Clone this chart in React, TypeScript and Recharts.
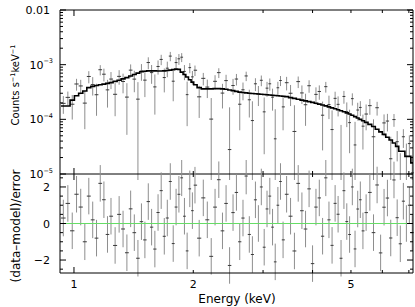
import { ComposedChart, ErrorBar, Line, ReferenceLine, Scatter, XAxis, YAxis } from "recharts";

// spectrum values are in units of 1e-4 counts s^-1 keV^-1
const UNIT = 1e-4;

const energy = [
  0.94, 0.965, 0.99, 1.015, 1.04, 1.065, 1.09, 1.115, 1.14, 1.165, 1.19, 1.215, 1.24,
  1.27, 1.3, 1.33, 1.36, 1.39, 1.42, 1.45, 1.48, 1.51, 1.54, 1.57, 1.6, 1.63, 1.66, 1.69, 1.72, 1.75, 1.78, 1.81, 1.84, 1.87, 1.9, 1.93, 1.96, 1.99,
  2.02, 2.07, 2.12, 2.17, 2.22, 2.27, 2.32, 2.37, 2.42, 2.47, 2.52, 2.57, 2.62, 2.67, 2.72, 2.77, 2.82, 2.87, 2.92, 2.97, 3.02, 3.07, 3.12, 3.17, 3.22, 3.27, 3.32, 3.37,
  3.44, 3.52, 3.6, 3.68, 3.76, 3.84, 3.92, 4.0, 4.08, 4.16, 4.24, 4.32, 4.4, 4.48, 4.56, 4.64, 4.72, 4.8, 4.88, 4.96, 5.04, 5.12, 5.2, 5.28, 5.36,
  5.46, 5.58, 5.7, 5.82, 5.94, 6.06, 6.18, 6.3, 6.42, 6.54, 6.66, 6.78, 6.9, 7.02, 7.14,
];

const model = [
  1.75, 1.75, 2.25, 2.7, 3.0, 3.3, 3.8, 4.0, 4.15, 4.3, 4.4, 4.55, 4.7,
  4.95, 5.2, 5.5, 5.8, 6.2, 6.6, 7.0, 7.4, 7.6, 7.7, 7.7, 7.7, 7.65, 7.65, 7.7, 7.8, 7.95, 8.1, 8.3, 8.2, 7.3, 6.6, 5.95, 5.3, 4.8,
  4.3, 3.8, 3.6, 3.6, 3.6, 3.65, 3.65, 3.6, 3.55, 3.45, 3.35, 3.25, 3.15, 3.1, 3.05, 3.0, 2.97, 2.94, 2.91, 2.88, 2.85, 2.82, 2.79, 2.76, 2.73, 2.7, 2.67, 2.64,
  2.6, 2.5, 2.42, 2.33, 2.25, 2.18, 2.11, 2.04, 1.97, 1.9, 1.83, 1.76, 1.69, 1.62, 1.56, 1.5, 1.44, 1.38, 1.31, 1.25, 1.19, 1.12, 1.06, 1.0, 0.94,
  0.88, 0.81, 0.74, 0.66, 0.59, 0.53, 0.47, 0.42, 0.37, 0.32, 0.26, 0.26, 0.21, 0.21, 0.16,
];

const counts = [
  1.96, 2.52, 1.89, 4.43, 4.08, 1.98, 6.08, 4.32, 2.82, 8.08, 6.69, 3.46, 5.45,
  2.87, 6.11, 4.92, 2.55, 7.94, 5.44, 2.34, 7.66, 5.21, 10.94, 7.16, 3.92, 9.26, 12.47, 5.81, 8.62, 14.34, 4.98, 10.92, 12.79, 13.7, 7.52, 2.83, 8.83, 5.98,
  7.91, 2.58, 5.62, 3.89, 1.01, 4.96, 7.15, 3.02, 5.11, 0.28, 4.15, 5.46, 1.89, 3.47, 6.22, 2.28, 0.95, 4.47, 2.91, 5.18, 1.37, 3.72, 4.47, 2.54, 0.44, 3.78, 5.13, 1.69,
  4.68, 3.0, 0.6, 4.9, 3.04, 1.85, 4.12, -0.2, 2.86, 3.23, 1.19, 3.96, 1.86, 0.65, 2.42, 1.88, 0.07, 2.62, 1.38, 0.87, 2.39, 0.34, 1.48, 1.65, 0.75,
  1.25, 1.78, 0.48, 1.63, -0.07, 0.86, 0.93, 0.19, 0.99, 0.39, 0.06, 0.48, 0.21, 0.36, 0.105,
];

const countErr = [
  0.7, 0.7, 0.9, 1.08, 1.2, 1.32, 1.52, 1.6, 1.66, 1.72, 1.76, 1.82, 1.88,
  1.73, 1.82, 1.93, 2.03, 2.17, 2.31, 2.45, 2.59, 2.66, 2.7, 2.7, 2.7, 2.68, 2.68, 2.7, 2.73, 2.78, 2.84, 2.91, 2.87, 2.56, 2.31, 2.08, 1.86, 1.68,
  1.72, 1.52, 1.44, 1.44, 1.44, 1.46, 1.46, 1.44, 1.42, 1.38, 1.34, 1.3, 1.26, 1.24, 1.22, 1.2, 1.19, 1.18, 1.16, 1.15, 1.14, 1.13, 1.12, 1.1, 1.09, 1.08, 1.07, 1.06,
  1.3, 1.25, 1.21, 1.17, 1.13, 1.09, 1.06, 1.02, 0.99, 0.95, 0.92, 0.88, 0.85, 0.81, 0.78, 0.75, 0.72, 0.69, 0.66, 0.63, 0.6, 0.56, 0.53, 0.5, 0.47,
  0.62, 0.57, 0.52, 0.46, 0.41, 0.37, 0.33, 0.29, 0.26, 0.22, 0.18, 0.18, 0.15, 0.15, 0.11,
];

const xTicks = [1, 2, 3, 4, 5, 6, 7];
const xLabelled = [1, 2, 5];
const decades = [1e-5, 1e-4, 1e-3, 1e-2];
const resTicks = [-2.5, -2, -1.5, -1, -0.5, 0, 0.5, 1, 1.5, 2, 2.5];
const resLabelled = [-2, 0, 2];

const X_DOMAIN: [number, number] = [0.922, 7.17];
const Y_DOMAIN: [number, number] = [1e-5, 1e-2];
const R_DOMAIN: [number, number] = [-2.71, 2.71];

const FONT = "'DejaVu Sans', sans-serif";
const GREY = "#8e8e8e";
const DARK = "#3a3a3a";

const logTicks = decades
  .slice(0, -1)
  .flatMap((d) => [1, 2, 3, 4, 5, 6, 7, 8, 9].map((k) => k * d))
  .concat(decades[decades.length - 1]);

const isDecade = (v: number) => Math.abs(Math.log10(v) - Math.round(Math.log10(v))) < 1e-6;

// bin edges halfway between neighbouring channels
const bins = energy.map((e, i) => {
  const lo = i > 0 ? (energy[i - 1] + e) / 2 : e - (energy[1] - energy[0]) / 2;
  const hi = i < energy.length - 1 ? (e + energy[i + 1]) / 2 : e + (e - energy[i - 1]) / 2;
  const c = counts[i] * UNIT;
  const s = countErr[i] * UNIT;
  const m = model[i] * UNIT;
  return { e, lo, hi, c, m, xe: [e - lo, hi - e], ye: [Math.min(s, c * 0.999), s], r: (c - m) / s, re: 1 };
});
const spectrum = bins.filter((b) => b.c > 0);
const modelSteps = [...bins.map((b) => ({ e: b.lo, m: b.m })), { e: bins[bins.length - 1].hi, m: bins[bins.length - 1].m }];

const TopXTick = ({ x, y, payload }: any) => {
  const len = payload.value === 1 ? 6 : 3;
  return <line x1={x} x2={x} y1={y} y2={y + len} stroke="#000" />;
};

const MidXTick = ({ x, y, payload }: any) => {
  const len = payload.value === 1 ? 6 : 3;
  return <line x1={x} x2={x} y1={y - len} y2={y + len} stroke="#000" />;
};

const BottomXTick = ({ x, y, payload }: any) => {
  const v = payload.value;
  const len = v === 1 ? 6 : 3;
  return (
    <g>
      <line x1={x} x2={x} y1={y} y2={y - len} stroke="#000" />
      {xLabelled.includes(v) && (
        <text x={x} y={y + 15} textAnchor="middle" fontSize={11} fontFamily={FONT} fill="#000">
          {v}
        </text>
      )}
    </g>
  );
};

const LogYTick = ({ x, y, payload, side }: any) => {
  const v = payload.value;
  const major = isDecade(v);
  const len = major ? 6 : 3;
  const dir = side === "left" ? 1 : -1;
  const exp = Math.round(Math.log10(v));
  return (
    <g>
      <line x1={x} x2={x + dir * len} y1={y} y2={y} stroke="#000" />
      {side === "left" && major &&
        (exp === -2 ? (
          <text x={x - 10} y={y + 4} textAnchor="end" fontSize={11} fontFamily={FONT} fill="#000">
            0.01
          </text>
        ) : (
          <text x={x - 7} y={y + 4} textAnchor="end" fontSize={11} fontFamily={FONT} fill="#000">
            10
            <tspan dy={-5.5} fontSize={6.5}>{`−${-exp}`}</tspan>
          </text>
        ))}
    </g>
  );
};

const ResYTick = ({ x, y, payload, side }: any) => {
  const v = payload.value;
  const major = resLabelled.includes(v);
  const len = major ? 6 : 3;
  const dir = side === "left" ? 1 : -1;
  return (
    <g>
      <line x1={x} x2={x + dir * len} y1={y} y2={y} stroke="#000" />
      {side === "left" && major && (
        <text x={x - 10} y={y + 4} textAnchor="end" fontSize={11} fontFamily={FONT} fill="#000">
          {v < 0 ? `−${-v}` : v}
        </text>
      )}
    </g>
  );
};

const axisLine = { stroke: "#000", strokeWidth: 1 };

export default function App() {
  return (
    <div style={{ position: "absolute", left: 0, top: 0, width: 415, height: 307, background: "#fff" }}>
      <div style={{ position: "absolute", left: 0, top: 0 }}>
        <ComposedChart width={415} height={180} margin={{ top: 0, right: 0, bottom: 0, left: 0 }} data={modelSteps}>
          <XAxis
            xAxisId="top"
            orientation="top"
            type="number"
            dataKey="e"
            scale="log"
            domain={X_DOMAIN}
            allowDataOverflow
            ticks={xTicks}
            interval={0}
            height={10}
            tickSize={0}
            tickMargin={0}
            tickLine={false}
            axisLine={axisLine}
            tick={(p: any) => <TopXTick {...p} />}
          />
          <XAxis
            xAxisId="mid"
            orientation="bottom"
            type="number"
            dataKey="e"
            scale="log"
            domain={X_DOMAIN}
            allowDataOverflow
            ticks={xTicks}
            interval={0}
            height={6}
            tickSize={0}
            tickMargin={0}
            tickLine={false}
            axisLine={axisLine}
            tick={(p: any) => <MidXTick {...p} />}
          />
          <YAxis
            yAxisId="l"
            orientation="left"
            type="number"
            scale="log"
            domain={Y_DOMAIN}
            allowDataOverflow
            ticks={logTicks}
            interval={0}
            width={60}
            tickSize={0}
            tickMargin={0}
            tickLine={false}
            axisLine={axisLine}
            tick={(p: any) => <LogYTick {...p} side="left" />}
            label={{
              content: () => (
                <text x={19} y={85} transform="rotate(-90 19 85)" textAnchor="middle" fontSize={10} fontFamily={FONT} fill="#000">
                  Counts s<tspan dy={-4} fontSize={6.5}>−1</tspan>
                  <tspan dy={4}>keV</tspan>
                  <tspan dy={-4} fontSize={6.5}>−1</tspan>
                </text>
              ),
            }}
          />
          <YAxis
            yAxisId="r"
            orientation="right"
            type="number"
            scale="log"
            domain={Y_DOMAIN}
            allowDataOverflow
            ticks={logTicks}
            interval={0}
            width={2}
            tickSize={0}
            tickMargin={0}
            tickLine={false}
            axisLine={axisLine}
            tick={(p: any) => <LogYTick {...p} side="right" />}
          />
          <Scatter xAxisId="mid" yAxisId="l" data={spectrum} dataKey="c" shape={() => <g />} isAnimationActive={false}>
            <ErrorBar dataKey="ye" direction="y" width={0} stroke={GREY} strokeWidth={1} />
            <ErrorBar dataKey="xe" direction="x" width={0} stroke={DARK} strokeWidth={1} />
          </Scatter>
          <Line
            xAxisId="mid"
            yAxisId="l"
            dataKey="m"
            type="stepAfter"
            stroke="#000"
            strokeWidth={1.6}
            dot={false}
            isAnimationActive={false}
          />
        </ComposedChart>
      </div>
      <div style={{ position: "absolute", left: 0, top: 160 }}>
        <ComposedChart width={415} height={147} margin={{ top: 14, right: 0, bottom: 0, left: 0 }} data={bins}>
          <XAxis
            xAxisId="b"
            orientation="bottom"
            type="number"
            dataKey="e"
            scale="log"
            domain={X_DOMAIN}
            allowDataOverflow
            ticks={xTicks}
            interval={0}
            height={34}
            tickSize={0}
            tickMargin={0}
            tickLine={false}
            axisLine={axisLine}
            tick={(p: any) => <BottomXTick {...p} />}
            label={{
              content: () => (
                <text x={237} y={143} textAnchor="middle" fontSize={12} fontFamily={FONT} fill="#000">
                  Energy (keV)
                </text>
              ),
            }}
          />
          <YAxis
            yAxisId="l"
            orientation="left"
            type="number"
            domain={R_DOMAIN}
            allowDataOverflow
            ticks={resTicks}
            interval={0}
            width={60}
            tickSize={0}
            tickMargin={0}
            tickLine={false}
            axisLine={axisLine}
            tick={(p: any) => <ResYTick {...p} side="left" />}
            label={{
              content: () => (
                <text x={20} y={66} transform="rotate(-90 20 66)" textAnchor="middle" fontSize={12} fontFamily={FONT} fill="#000">
                  (data–model)/error
                </text>
              ),
            }}
          />
          <YAxis
            yAxisId="r"
            orientation="right"
            type="number"
            domain={R_DOMAIN}
            allowDataOverflow
            ticks={resTicks}
            interval={0}
            width={2}
            tickSize={0}
            tickMargin={0}
            tickLine={false}
            axisLine={axisLine}
            tick={(p: any) => <ResYTick {...p} side="right" />}
          />
          <Scatter xAxisId="b" yAxisId="l" dataKey="r" shape={() => <g />} isAnimationActive={false}>
            <ErrorBar dataKey="re" direction="y" width={0} stroke={GREY} strokeWidth={1} />
            <ErrorBar dataKey="xe" direction="x" width={0} stroke={DARK} strokeWidth={1} />
          </Scatter>
          <ReferenceLine xAxisId="b" yAxisId="l" y={0} stroke="#66dd66" strokeWidth={1.2} />
        </ComposedChart>
      </div>
    </div>
  );
}
